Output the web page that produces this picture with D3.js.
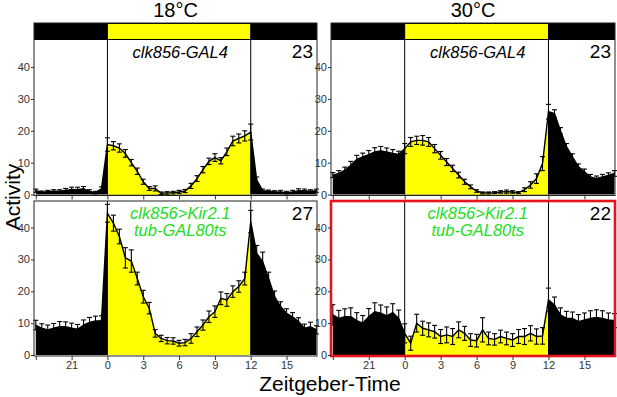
<!DOCTYPE html>
<html>
<head>
<meta charset="utf-8">
<script src="https://cdn.jsdelivr.net/npm/d3@7"></script>
<style>
  body { margin: 0; background: #fff; }
  svg { display: block; font-family: Arial, "Liberation Sans", sans-serif; }
</style>
</head>
<body>
<div id="wrapper"></div>
<script>
// Zeitgeber time of each half-hour bin (ZT18 shown as -6 ... ZT17.5)
const zt = [-6, -5.5, -5, -4.5, -4, -3.5, -3, -2.5, -2, -1.5, -1, -0.5,
  0, 0.5, 1, 1.5, 2, 2.5, 3, 3.5, 4, 4.5, 5, 5.5, 6, 6.5, 7, 7.5, 8, 8.5, 9, 9.5, 10, 10.5, 11, 11.5,
  12, 12.5, 13, 13.5, 14, 14.5, 15, 15.5, 16, 16.5, 17, 17.5]

const xTicks = [-6, -3, 0, 3, 6, 9, 12, 15]
const xTickLabels = ["", "21", "0", "3", "6", "9", "12", "15"]
const yTicks = [0, 10, 20, 30, 40]

const temps = ["18°C", "30°C"]
const genotypes = [["clk856-GAL4"], ["clk856>Kir2.1", "tub-GAL80ts"]]
const nFlies = [[23, 23], [27, 22]]

// mean activity per bin
const ctl18 = [1.2, 0.7, 0.9, 1.0, 1.0, 1.3, 1.6, 1.5, 1.8, 1.0, 0.6, 1.8,
  15.7, 15.3, 14.6, 12.9, 10.0, 7.3, 4.0, 1.9, 1.9, 0.4, 0.5, 0.6, 0.8, 1.1, 2.7, 5.0, 7.8, 10.4, 11.6, 10.6, 13.4, 16.8, 17.6, 18.4,
  19.6, 4.5, 1.2, 1.0, 0.8, 0.8, 0.6, 0.8, 1.2, 1.2, 1.0, 1.2]
const ctl30 = [6.1, 6.6, 7.6, 9.2, 11.0, 11.8, 12.5, 13.4, 13.7, 13.4, 12.9, 12.6,
  14.4, 16.5, 17.0, 17.0, 16.5, 14.4, 12.3, 10.2, 8.2, 6.1, 4.0, 2.4, 1.1, 0.5, 0.5, 0.6, 0.8, 0.9, 0.8, 0.6, 1.5, 3.0, 5.0, 9.7,
  26.0, 25.4, 20.0, 15.0, 11.8, 8.7, 7.1, 5.5, 5.0, 5.5, 6.0, 6.6]
const kir18 = [9.4, 8.4, 7.9, 8.4, 8.9, 8.9, 8.4, 8.1, 9.4, 10.2, 10.7, 10.8,
  44.5, 41.4, 37.2, 30.5, 29.5, 24.0, 18.3, 14.7, 6.8, 5.2, 4.5, 4.4, 3.7, 3.9, 5.2, 7.3, 9.4, 12.0, 13.6, 17.8, 17.3, 19.9, 21.5, 24.0,
  41.9, 31.9, 29.3, 24.0, 18.3, 15.2, 13.1, 12.0, 10.5, 8.4, 8.9, 7.9]
const kir30 = [12.6, 11.5, 12.0, 12.0, 10.8, 10.0, 12.0, 13.6, 13.1, 12.3, 13.3, 11.5,
  6.8, 3.7, 10.0, 8.4, 7.9, 7.3, 5.8, 6.3, 5.8, 7.9, 6.8, 4.7, 4.5, 7.9, 5.2, 4.9, 5.8, 5.2, 4.7, 5.8, 5.8, 6.8, 5.8, 6.0,
  17.3, 15.7, 12.6, 11.5, 11.5, 10.5, 11.0, 11.5, 11.8, 11.5, 11.0, 10.8]

// standard error per bin
const ctl18Sem = [0.5, 0.4, 0.4, 0.5, 0.5, 0.6, 0.7, 0.8, 0.7, 0.5, 0.4, 0.6,
  2.1, 1.3, 1.3, 1.2, 1.0, 1.0, 0.8, 0.6, 0.8, 0.4, 0.4, 0.4, 0.5, 0.5, 0.8, 0.9, 1.0, 1.0, 1.2, 1.0, 1.2, 1.5, 1.4, 1.6,
  2.5, 1.0, 0.5, 0.4, 0.4, 0.5, 0.4, 0.5, 0.6, 0.5, 0.5, 0.5]
const ctl30Sem = [0.8, 0.9, 1.0, 1.2, 1.3, 1.2, 1.3, 1.3, 1.4, 1.2, 1.2, 1.0,
  1.6, 1.4, 1.3, 1.5, 1.4, 1.3, 1.2, 1.1, 1.0, 0.9, 0.8, 0.6, 0.4, 0.3, 0.3, 0.3, 0.4, 0.5, 0.4, 0.3, 0.6, 1.0, 1.5, 2.2,
  2.3, 1.2, 1.0, 1.0, 1.0, 0.9, 0.9, 0.8, 0.8, 0.8, 0.8, 0.9]
const kir18Sem = [1.5, 1.4, 1.5, 1.5, 1.6, 1.5, 1.6, 1.5, 1.6, 1.6, 1.5, 1.5,
  2.8, 2.5, 2.3, 3.2, 3.5, 2.0, 2.0, 1.8, 1.2, 1.0, 1.0, 1.0, 0.9, 1.0, 1.5, 1.5, 1.6, 1.8, 1.8, 2.0, 2.0, 1.8, 1.8, 2.0,
  3.5, 2.5, 3.0, 2.0, 1.8, 1.5, 1.4, 1.3, 1.2, 1.3, 1.4, 1.3]
const kir30Sem = [3.2, 2.5, 2.5, 2.8, 2.5, 2.4, 2.6, 2.8, 2.6, 2.8, 2.8, 2.6,
  3.0, 2.2, 2.8, 2.2, 2.2, 2.0, 2.2, 2.5, 2.5, 2.5, 2.2, 2.0, 2.0, 3.8, 2.0, 1.8, 2.0, 2.0, 2.0, 2.2, 2.5, 2.4, 2.4, 2.6,
  3.7, 2.5, 2.2, 2.2, 2.0, 2.2, 2.2, 2.4, 2.4, 2.4, 2.2, 2.2]

const lightOn = 0
const lightOff = 12

const width = 617
const height = 397
const yellow = "#ffff00"
const green = "#22dd22"

const svg = d3.select("#wrapper")
  .append("svg")
  .attr("width", width)
  .attr("height", height)

// panel boxes: columns = temperature, rows = genotype
const cols = [{ left: 34, right: 317 }, { left: 331, right: 615 }]
const rows = [
  { top: 40, zero: 194.5, barTop: 23 },
  { top: 201, zero: 355, barTop: null },
]

const panels = [
  { row: 0, col: 0, mean: ctl18, sem: ctl18Sem },
  { row: 0, col: 1, mean: ctl30, sem: ctl30Sem },
  { row: 1, col: 0, mean: kir18, sem: kir18Sem },
  { row: 1, col: 1, mean: kir30, sem: kir30Sem },
]

const defs = svg.append("defs")

panels.forEach((p, i) => {
  const c = cols[p.col]
  const r = rows[p.row]
  const data = zt.map((t, j) => ({ t, v: p.mean[j], e: p.sem[j] }))

  const xScale = d3.scaleLinear()
    .domain([-6.15, 17.55])
    .range([c.left, c.right])

  const yScale = d3.scaleLinear()
    .domain([0, 48.4])
    .range([r.zero, r.zero - 48.4 * 3.185])

  const g = svg.append("g")

  // light/dark bar on top row
  if (r.barTop !== null) {
    g.append("rect")
      .attr("x", c.left).attr("y", r.barTop)
      .attr("width", c.right - c.left).attr("height", r.top - r.barTop)
      .attr("fill", "#000")
    g.append("rect")
      .attr("x", xScale(lightOn)).attr("y", r.barTop + 1)
      .attr("width", xScale(lightOff) - xScale(lightOn)).attr("height", r.top - r.barTop - 2)
      .attr("fill", yellow)
  }

  const area = d3.area()
    .x(d => xScale(d.t))
    .y0(yScale(0))
    .y1(d => yScale(d.v))

  const clipId = "light" + i
  defs.append("clipPath").attr("id", clipId)
    .append("rect")
    .attr("x", xScale(lightOn)).attr("y", 0)
    .attr("width", xScale(lightOff) - xScale(lightOn)).attr("height", height)

  g.append("path").datum(data)
    .attr("d", area)
    .attr("fill", "#000")

  g.append("path").datum(data)
    .attr("d", area)
    .attr("fill", yellow)
    .attr("clip-path", `url(#${clipId})`)

  g.append("path").datum(data)
    .attr("d", d3.line().x(d => xScale(d.t)).y(d => yScale(d.v)))
    .attr("fill", "none")
    .attr("stroke", "#000")
    .attr("stroke-width", 1.4)

  // error bars
  const bars = g.selectAll(".err")
    .data(data)
    .enter().append("g")
      .attr("class", "err")
      .attr("stroke", "#000")
      .attr("stroke-width", 1.1)
  bars.append("line")
    .attr("x1", d => xScale(d.t)).attr("x2", d => xScale(d.t))
    .attr("y1", d => yScale(d.v - d.e)).attr("y2", d => yScale(d.v + d.e))
  bars.append("line")
    .attr("x1", d => xScale(d.t) - 2.5).attr("x2", d => xScale(d.t) + 2.5)
    .attr("y1", d => yScale(d.v + d.e)).attr("y2", d => yScale(d.v + d.e))
  bars.append("line")
    .attr("x1", d => xScale(d.t) - 2.5).attr("x2", d => xScale(d.t) + 2.5)
    .attr("y1", d => yScale(d.v - d.e)).attr("y2", d => yScale(d.v - d.e))

  // light transitions
  const lineTop = r.barTop !== null ? r.barTop : r.top
  ;[lightOn, lightOff].forEach(t => {
    g.append("line")
      .attr("x1", xScale(t)).attr("x2", xScale(t))
      .attr("y1", lineTop).attr("y2", r.zero)
      .attr("stroke", "#000").attr("stroke-width", 1)
  })

  // frame
  const frameTop = r.barTop !== null ? r.barTop : r.top
  const highlight = p.row === 1 && p.col === 1
  g.append("rect")
    .attr("x", c.left).attr("y", frameTop)
    .attr("width", c.right - c.left).attr("height", r.zero + 1 - frameTop)
    .attr("fill", "none")
    .attr("stroke", highlight ? "#e8141c" : "#222")
    .attr("stroke-width", highlight ? 2.6 : 1)

  // axes
  const yAxis = d3.axisLeft(yScale)
    .tickValues(yTicks)
    .tickSize(3)
    .tickPadding(1)
  const ya = g.append("g")
    .attr("transform", `translate(${c.left},0)`)
    .call(yAxis)
  ya.select(".domain").remove()
  ya.selectAll("text").attr("font-size", 11).attr("fill", "#333").attr("font-family", "Arial, 'Liberation Sans', sans-serif")
  ya.selectAll("line").attr("stroke", "#333")

  const xAxis = d3.axisBottom(xScale)
    .tickValues(xTicks)
    .tickFormat((d, k) => p.row === 1 ? xTickLabels[k] : "")
    .tickSize(4)
    .tickPadding(1)
  const xa = g.append("g")
    .attr("transform", `translate(0,${r.zero + 1})`)
    .call(xAxis)
  xa.select(".domain").remove()
  xa.selectAll("text").attr("font-size", 11).attr("fill", "#333").attr("font-family", "Arial, 'Liberation Sans', sans-serif")
  xa.selectAll("line").attr("stroke", "#333")

  // n flies
  g.append("text")
    .attr("x", c.right - 4)
    .attr("y", r.top + (p.row === 0 ? 18 : 19))
    .attr("text-anchor", "end")
    .attr("font-size", 19)
    .text(nFlies[p.row][p.col])

  // genotype
  genotypes[p.row].forEach((label, k) => {
    g.append("text")
      .attr("x", xScale(6.1))
      .attr("y", p.row === 0 ? 58 : 219 + k * 17)
      .attr("text-anchor", "middle")
      .attr("font-size", 16.5)
      .attr("font-style", "italic")
      .attr("fill", p.row === 0 ? "#000" : green)
      .text(label)
  })
})

// temperature titles
temps.forEach((t, k) => {
  svg.append("text")
    .attr("x", (cols[k].left + cols[k].right) / 2)
    .attr("y", 17)
    .attr("text-anchor", "middle")
    .attr("font-size", 20)
    .text(t)
})

svg.append("text")
  .attr("transform", "translate(19.5,197) rotate(-90)")
  .attr("text-anchor", "middle")
  .attr("font-size", 21)
  .text("Activity")

svg.append("text")
  .attr("x", 330)
  .attr("y", 391)
  .attr("text-anchor", "middle")
  .attr("font-size", 21)
  .text("Zeitgeber-Time")
</script>
</body>
</html>
